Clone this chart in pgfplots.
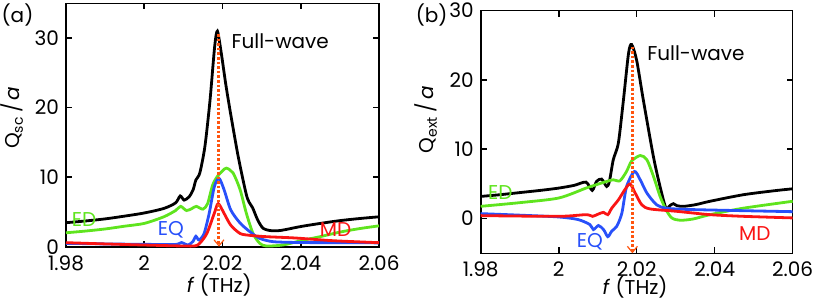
\documentclass[border=0pt]{standalone}
\usepackage{fontspec}
\setmainfont{Poppins}
\usepackage{pgfplots}
\pgfplotsset{compat=1.18}
\usetikzlibrary{arrows.meta}
\definecolor{cgreen}{RGB}{95,228,30}
\definecolor{cblue}{RGB}{40,80,250}
\definecolor{cred}{RGB}{250,20,20}
\definecolor{corange}{RGB}{255,85,15}
\newcommand{\fs}{\fontsize{10}{12}\selectfont}
\begin{document}
\begin{tikzpicture}
\useasboundingbox (0,0) rectangle (407pt,153pt);
\pgfplotsset{
  myax/.style={
    scale only axis, clip=false,
    xmin=1.98, xmax=2.06,
    xtick={1.98,2,2.02,2.04,2.06},
    xticklabels={1.98,2,2.02,2.04,2.06},
    tick align=inside, major tick length=3pt,
    xtick pos=both, ytick pos=both,
    axis line style={line width=0.8pt},
    every tick/.style={line width=0.8pt, black},
    /pgf/number format/assume math mode=true,
    tick label style={font=\fs},
    xticklabel style={yshift=-0.8pt},
    label style={font=\fs},
    every axis plot/.append style={line width=1.4pt, smooth, tension=0.45, no marks},
  }
}
% ---------- panel (a)
\begin{axis}[myax, at={(33pt,29.65pt)}, anchor=south west,
  width=156.5pt, height=121.7pt,
  ymin=0, ymax=35, ytick={0,10,20,30},
  xlabel={\textit{f} (THz)}, ylabel={Q\textsubscript{sc}\,/\,\textit{a}},
  xlabel style={at={(axis description cs:0.49,-0.157)}, anchor=center},
  ylabel style={at={(axis description cs:-0.172,0.53)}, anchor=center},
]
\addplot[black] coordinates {
(1.980,3.45)(1.985,3.7)(1.990,4.0)(1.995,4.4)(2.000,4.85)(2.005,5.5)(2.008,6.3)
(2.0092,7.3)(2.0102,6.7)(2.0115,7.2)(2.0125,8.2)(2.0132,9.6)(2.0142,10.6)
(2.0155,14.4)(2.0168,21)(2.018,28.8)(2.0187,31.0)(2.0197,27.8)(2.0208,23.5)
(2.0219,19.7)(2.024,13)(2.026,7.7)(2.0268,6.4)(2.0277,5.6)(2.029,3.84)
(2.0304,2.64)(2.0325,2.3)(2.035,2.35)(2.040,2.9)(2.045,3.35)(2.050,3.75)
(2.055,4.05)(2.060,4.3)};
\addplot[cgreen] coordinates {
(1.980,2.0)(1.985,2.25)(1.990,2.55)(1.995,2.95)(2.000,3.35)(2.005,4.3)(2.008,5.2)
(2.0093,5.8)(2.0108,5.2)(2.0122,5.5)(2.0133,5.8)(2.015,5.4)(2.0162,6.2)
(2.0175,8.9)(2.0188,10.2)(2.020,10.9)(2.021,11.3)(2.0227,10.6)(2.0245,8.2)
(2.0261,4.8)(2.0278,1.9)(2.0295,0.5)(2.0312,0.1)(2.0355,0.25)(2.040,0.86)
(2.045,1.45)(2.050,2.1)(2.055,2.6)(2.060,3.0)};
\addplot[cblue] coordinates {
(1.980,0.48)(1.990,0.4)(2.000,0.34)(2.008,0.33)(2.0095,0.6)(2.0112,0.24)
(2.0125,0.8)(2.0132,1.5)(2.014,0.96)(2.0153,1.9)(2.0166,4.8)(2.0179,8.6)
(2.0191,9.84)(2.0204,8.2)(2.0221,5.3)(2.0245,3.4)(2.027,2.16)(2.0295,1.2)
(2.033,0.72)(2.040,0.6)(2.050,0.58)(2.060,0.55)};
\addplot[cred] coordinates {
(1.980,0.58)(1.990,0.4)(2.000,0.24)(2.010,0.1)(2.013,0.12)(2.0142,0.5)
(2.016,1.9)(2.0179,4.8)(2.0189,6.2)(2.0204,4.8)(2.0221,3.1)(2.0245,1.9)
(2.027,1.63)(2.0312,1.44)(2.037,1.3)(2.040,1.2)(2.0483,0.86)(2.060,0.58)};
\addplot[corange, line width=1.5pt, sharp plot, dash pattern=on 1.3pt off 1pt,
  -{Straight Barb[length=3pt,width=5pt,line width=0.6pt]}] coordinates {(2.0191,30.6)(2.0191,0)};
\node[anchor=west, font=\fs] at (axis cs:2.0205,29.6) {Full-wave};
\node[text=cgreen, font=\fs] at (axis cs:1.9846,3.9) {ED};
\node[text=cblue, font=\fs] at (axis cs:2.0068,2.4) {EQ};
\node[text=cred, font=\fs] at (axis cs:2.0489,2.4) {MD};
\end{axis}
\node[font=\fs] at (8.75pt,145.5pt) {(a)};
% ---------- panel (b)
\begin{axis}[myax, at={(240.35pt,26.35pt)}, anchor=south west,
  width=156pt, height=121.4pt,
  ymin=-5, ymax=30, ytick={0,10,20,30},
  xlabel={\textit{f} (THz)}, ylabel={Q\textsubscript{ext}\,/\,\textit{a}},
  xlabel style={at={(axis description cs:0.495,-0.139)}, anchor=center},
  ylabel style={at={(axis description cs:-0.175,0.55)}, anchor=center},
]
\addplot[black] coordinates {
(1.980,3.2)(1.985,3.45)(1.990,3.75)(1.995,4.05)(2.000,4.4)(2.004,4.8)(2.007,5.26)
(2.0086,4.07)(2.0097,5.36)(2.011,5.7)(2.0123,4.64)(2.013,5.36)(2.014,8.5)
(2.0153,10.9)(2.0166,17.1)(2.0179,23.8)(2.0187,25.1)(2.020,22.8)(2.0217,17.1)
(2.0243,8.9)(2.026,4.6)(2.0275,1.5)(2.0285,1.87)(2.0294,2.15)(2.0303,1.87)
(2.032,1.77)(2.035,2.0)(2.0388,2.5)(2.0473,3.44)(2.055,4.0)(2.060,4.3)};
\addplot[cgreen] coordinates {
(1.980,1.77)(1.990,2.3)(2.000,2.97)(2.007,4.4)(2.0097,4.9)(2.0123,5.36)
(2.014,5.6)(2.0157,5.45)(2.0174,6.8)(2.0187,8.3)(2.0209,9.1)(2.0226,8.5)
(2.0243,6.1)(2.026,3.2)(2.0275,1.3)(2.029,0.1)(2.0311,-0.24)(2.0345,-0.05)
(2.0388,0.57)(2.0473,1.5)(2.060,2.5)};
\addplot[cblue] coordinates {
(1.980,0.72)(1.990,0.5)(2.000,0.24)(2.005,-0.14)(2.008,-0.86)(2.0089,-1.58)
(2.0102,-1.0)(2.0115,-1.58)(2.0126,-2.6)(2.0136,-1.8)(2.0149,-1.1)(2.0162,0.8)
(2.0174,4.6)(2.0194,6.8)(2.0209,5.6)(2.0226,3.7)(2.0251,2.0)(2.0277,1.5)
(2.0345,1.3)(2.060,1.0)};
\addplot[cred] coordinates {
(1.980,0.43)(2.000,0.33)(2.007,0.57)(2.0087,0.33)(2.0102,0.67)(2.0115,0.9)
(2.0126,0.57)(2.0136,1.5)(2.0153,2.7)(2.017,4.2)(2.0183,5.0)(2.0196,3.7)
(2.0213,2.0)(2.0234,1.4)(2.0303,1.05)(2.0388,0.57)(2.0473,0.33)(2.060,0.1)};
\addplot[corange, line width=1.5pt, sharp plot, dash pattern=on 1.3pt off 1pt,
  -{Straight Barb[length=3pt,width=5pt,line width=0.6pt]}] coordinates {(2.0189,24.8)(2.0189,-5)};
\node[anchor=west, font=\fs] at (axis cs:2.0209,23.9) {Full-wave};
\node[text=cgreen, font=\fs] at (axis cs:1.985,3.7) {ED};
\node[text=cblue, font=\fs] at (axis cs:2.008,-3.3) {EQ};
\node[text=cred, font=\fs] at (axis cs:2.0503,-2.1) {MD};
\end{axis}
\node[font=\fs] at (215.8pt,145.5pt) {(b)};
\end{tikzpicture}
\end{document}
